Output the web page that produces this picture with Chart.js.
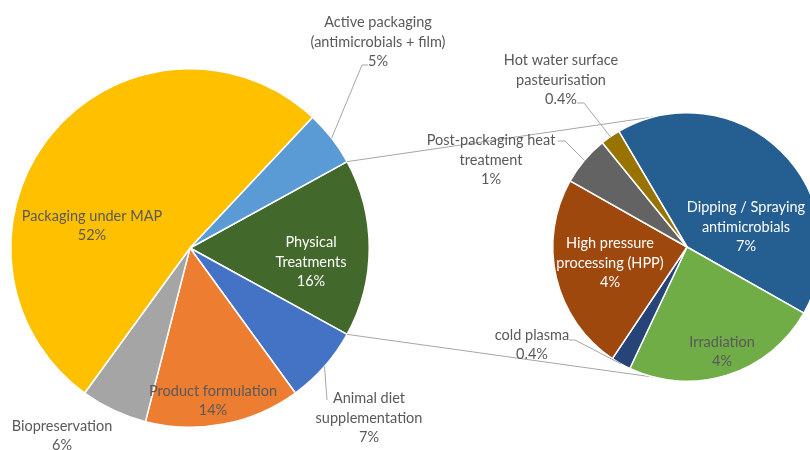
<!DOCTYPE html>
<html>
<head>
<meta charset="utf-8">
<script src="https://cdn.jsdelivr.net/npm/chart.js@4/dist/chart.umd.min.js"></script>
<style>
  html, body { margin: 0; padding: 0; background: #fff; }
  #wrap { position: relative; width: 810px; height: 450px; overflow: hidden; }
  #wrap canvas { position: absolute; left: 0; top: 0; }
</style>
</head>
<body>
<div id="wrap">
  <canvas id="mainPie" width="810" height="450"></canvas>
  <canvas id="subPie" width="830" height="450"></canvas>
</div>
<script>
// main pie (clockwise, starting with the split slice)
const mainCategories = ['Physical\nTreatments', 'Animal diet\nsupplementation', 'Product formulation',
  'Biopreservation', 'Packaging under MAP', 'Active packaging\n(antimicrobials + film)'];
const mainValues = [16, 7, 14, 6, 52, 5];
const mainColors = ['#43682B', '#4472C4', '#ED7D31', '#A5A5A5', '#FFC000', '#5B9BD5'];

// secondary pie: breakdown of physical treatments
const subCategories = ['Dipping / Spraying\nantimicrobials', 'Irradiation', 'cold plasma',
  'High pressure\nprocessing (HPP)', 'Post-packaging heat\ntreatment', 'Hot water surface\npasteurisation'];
const subValues = [7, 4, 0.4, 4, 1, 0.4];
const subColors = ['#255E91', '#70AD47', '#264478', '#9E480E', '#636363', '#997300'];

// label placement (block centre) and optional leader line elbow
const GREY = '#595959';
const mainLabelPos = [
  { x: 311, y: 262, color: '#fff' },
  { x: 369, y: 418, color: GREY, leader: { x: 327, y: 400, len: 0 } },
  { x: 213, y: 401, color: GREY },
  { x: 62, y: 436, color: GREY },
  { x: 92, y: 226, color: GREY },
  { x: 378, y: 42, color: GREY, leader: { x: 362, y: 65, len: 6 } }
];
const subLabelPos = [
  { x: 746, y: 227, color: '#fff' },
  { x: 722, y: 352, color: GREY },
  { x: 532, y: 345, color: GREY, leader: { x: 575, y: 340, len: -6 } },
  { x: 610, y: 263, color: '#fff' },
  { x: 491, y: 160, color: GREY, leader: { x: 565, y: 141, len: -7 } },
  { x: 561, y: 80, color: GREY, leader: { x: 584, y: 103, len: -7 } }
];

const FONT = '14.5px Lato';
const LINE_H = 19.5;

function pieOptions(rotation, padding) {
  return {
    responsive: false,
    animation: false,
    rotation: rotation,
    layout: { padding: padding },
    elements: { arc: { borderColor: '#fff', borderWidth: 1.5, borderJoinStyle: 'round' } },
    plugins: { legend: { display: false }, tooltip: { enabled: false } }
  };
}

const mainChart = new Chart(document.getElementById('mainPie'), {
  type: 'pie',
  data: { labels: mainCategories, datasets: [{ data: mainValues, backgroundColor: mainColors }] },
  options: pieOptions(90 - mainValues[0] / 100 * 180, { left: 10, top: 68, right: 440, bottom: 22 })
});

function drawLabels(ctx, chart, categories, values, layout) {
  const arcs = chart.getDatasetMeta(0).data;
  ctx.save();
  ctx.font = FONT;
  ctx.textAlign = 'center';
  ctx.textBaseline = 'middle';
  arcs.forEach((arc, i) => {
    const pos = layout[i];
    const lines = categories[i].split('\n').concat([values[i] + '%']);
    if (pos.leader) {
      const mid = (arc.startAngle + arc.endAngle) / 2;
      ctx.strokeStyle = '#A6A6A6';
      ctx.lineWidth = 1;
      ctx.beginPath();
      ctx.moveTo(arc.x + arc.outerRadius * Math.cos(mid), arc.y + arc.outerRadius * Math.sin(mid));
      ctx.lineTo(pos.leader.x, pos.leader.y);
      ctx.lineTo(pos.leader.x + pos.leader.len, pos.leader.y);
      ctx.stroke();
    }
    ctx.fillStyle = pos.color;
    const top = pos.y - (lines.length - 1) * LINE_H / 2;
    lines.forEach((t, k) => ctx.fillText(t, pos.x, top + k * LINE_H));
  });
  ctx.restore();
}

// connector lines between the split slice and the secondary pie
const connectorPlugin = {
  id: 'connectors',
  beforeDatasetsDraw(chart) {
    const split = mainChart.getDatasetMeta(0).data[0];
    const sub = chart.getDatasetMeta(0).data[0];
    const r = sub.outerRadius;
    const off = 14 * Math.PI / 180;
    const ctx = chart.ctx;
    ctx.save();
    ctx.strokeStyle = '#A6A6A6';
    ctx.lineWidth = 1;
    ctx.beginPath();
    ctx.moveTo(split.x + split.outerRadius * Math.cos(split.startAngle), split.y + split.outerRadius * Math.sin(split.startAngle));
    ctx.lineTo(sub.x + r * Math.cos(-Math.PI / 2 - off), sub.y + r * Math.sin(-Math.PI / 2 - off));
    ctx.moveTo(split.x + split.outerRadius * Math.cos(split.endAngle), split.y + split.outerRadius * Math.sin(split.endAngle));
    ctx.lineTo(sub.x + r * Math.cos(Math.PI / 2 + off), sub.y + r * Math.sin(Math.PI / 2 + off));
    ctx.stroke();
    ctx.restore();
  },
  afterDatasetsDraw(chart) {
    drawLabels(chart.ctx, mainChart, mainCategories, mainValues, mainLabelPos);
    drawLabels(chart.ctx, chart, subCategories, subValues, subLabelPos);
  }
};

new Chart(document.getElementById('subPie'), {
  type: 'pie',
  data: { labels: subCategories, datasets: [{ data: subValues, backgroundColor: subColors }] },
  options: pieOptions(-30.5, { left: 552, top: 112, right: 8, bottom: 68 }),
  plugins: [connectorPlugin]
});
</script>
</body>
</html>
